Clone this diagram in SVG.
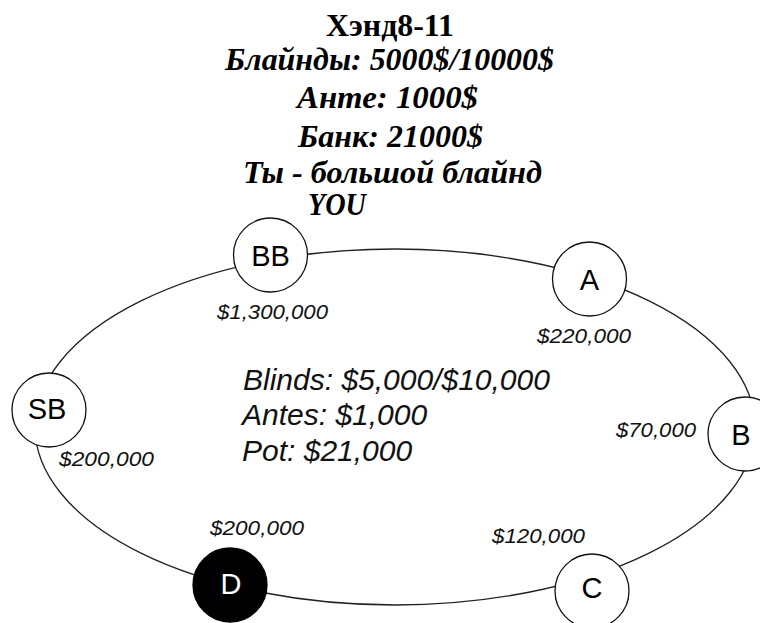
<svg xmlns="http://www.w3.org/2000/svg" width="760" height="623" viewBox="0 0 760 623">
  <style>
    .title { font-family: "Liberation Serif", "DejaVu Serif", serif; font-weight: bold; font-size: 31px; fill: #000; }
    .ti { font-style: italic; }
    .seat { fill: #fff; stroke: #111; stroke-width: 1.3; }
    .dealer { fill: #000; stroke: #000; stroke-width: 1.3; }
    .lbl { font-family: "Liberation Sans", Arial, sans-serif; font-size: 29px; fill: #000; text-anchor: middle; }
    .chip { font-family: "Liberation Sans", Arial, sans-serif; font-size: 20px; font-style: italic; fill: #111; }
    .info { font-family: "Liberation Sans", Arial, sans-serif; font-size: 30px; font-style: italic; fill: #111; }
    .table { fill: none; stroke: #222; stroke-width: 1.3; }
  </style>

  <g id="title">
    <text class="title" x="390" y="36" text-anchor="middle" textLength="128" lengthAdjust="spacingAndGlyphs">Хэнд8-11</text>
    <text class="title ti" x="389.5" y="70" text-anchor="middle" textLength="329" lengthAdjust="spacingAndGlyphs">Блайнды: 5000$/10000$</text>
    <text class="title ti" x="387.5" y="108" text-anchor="middle" textLength="181" lengthAdjust="spacingAndGlyphs">Анте: 1000$</text>
    <text class="title ti" x="390.5" y="147" text-anchor="middle" textLength="185" lengthAdjust="spacingAndGlyphs">Банк: 21000$</text>
    <text class="title ti" x="392.5" y="183" text-anchor="middle" textLength="299" lengthAdjust="spacingAndGlyphs">Ты - большой блайнд</text>
    <text class="title ti" x="308" y="215" font-size="26" textLength="58" lengthAdjust="spacingAndGlyphs">YOU</text>
  </g>

  <g id="connectors">
    <ellipse class="table" cx="395" cy="427" rx="360" ry="178"/>
  </g>

  <g id="info">
    <text class="info" x="243" y="390">Blinds: $5,000/$10,000</text>
    <text class="info" x="242" y="425">Antes: $1,000</text>
    <text class="info" x="242" y="461">Pot: $21,000</text>
  </g>

  <g id="node-BB">
    <circle class="seat" cx="270.5" cy="255" r="37"/>
    <text class="lbl" x="270.5" y="265.5">BB</text>
    <text class="chip" x="217" y="319" textLength="111" lengthAdjust="spacingAndGlyphs">$1,300,000</text>
  </g>

  <g id="node-A">
    <circle class="seat" cx="589.5" cy="279" r="37"/>
    <text class="lbl" x="589.5" y="289.5">A</text>
    <text class="chip" x="537" y="343" textLength="94" lengthAdjust="spacingAndGlyphs">$220,000</text>
  </g>

  <g id="node-B">
    <circle class="seat" cx="745" cy="434" r="37"/>
    <text class="lbl" x="741" y="444.5">B</text>
    <text class="chip" x="616" y="437" textLength="80" lengthAdjust="spacingAndGlyphs">$70,000</text>
  </g>

  <g id="node-SB">
    <circle class="seat" cx="49" cy="410" r="37"/>
    <text class="lbl" x="47" y="419">SB</text>
    <text class="chip" x="59" y="466" textLength="95" lengthAdjust="spacingAndGlyphs">$200,000</text>
  </g>

  <g id="node-D">
    <circle class="dealer" cx="230" cy="585" r="37"/>
    <text class="lbl" x="231" y="594" fill="#fff" style="fill:#fff">D</text>
    <text class="chip" x="210" y="535" textLength="94" lengthAdjust="spacingAndGlyphs">$200,000</text>
  </g>

  <g id="node-C">
    <circle class="seat" cx="592" cy="591" r="37"/>
    <text class="lbl" x="592" y="598">C</text>
    <text class="chip" x="492" y="543" textLength="93" lengthAdjust="spacingAndGlyphs">$120,000</text>
  </g>
</svg>
